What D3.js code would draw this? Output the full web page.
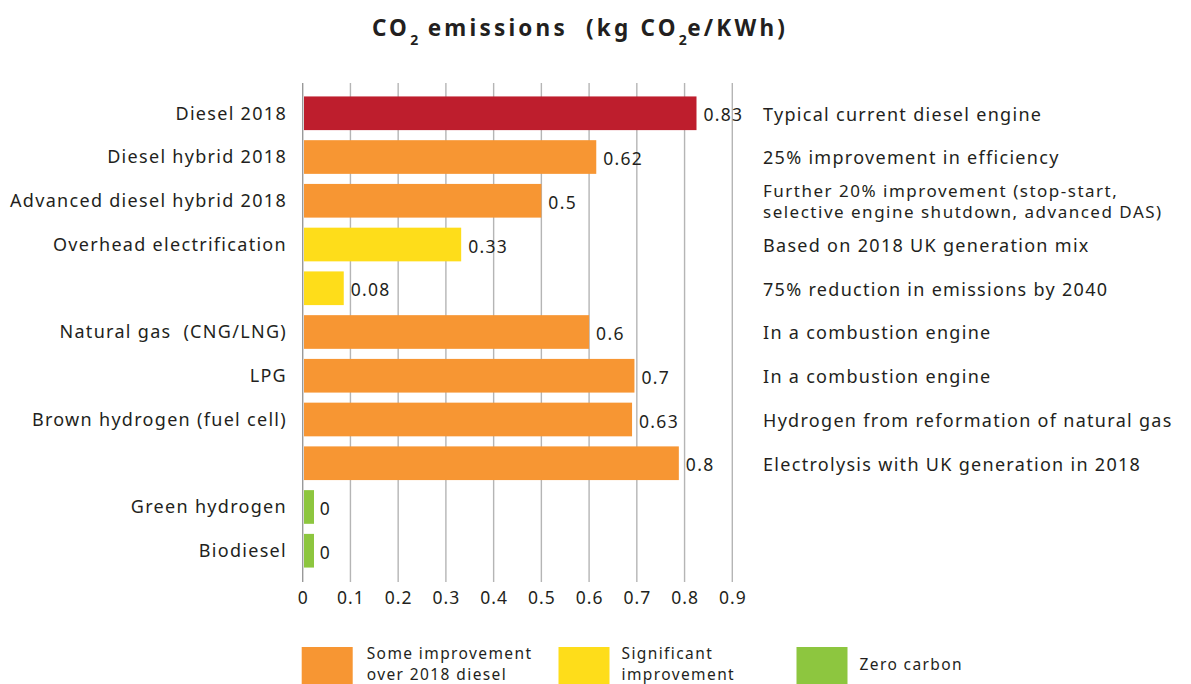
<!DOCTYPE html>
<html>
<head>
<meta charset="UTF-8" />
<title>CO2 emissions</title>
<script src="https://d3js.org/d3.v7.min.js"></script>
<style>
body { margin: 0px; background: #fff; }
text { font-family: "Noto Sans", sans-serif; fill: #231f20; letter-spacing: 1.3px; white-space: pre; }
</style>
</head>
<body>
<svg id="chart" width="1191" height="684"></svg>
<script>
// data
const categories = ["Diesel 2018", "Diesel hybrid 2018", "Advanced diesel hybrid 2018",
    "Overhead electrification", "", "Natural gas  (CNG/LNG)", "LPG",
    "Brown hydrogen (fuel cell)", "", "Green hydrogen", "Biodiesel"];
const barLengths = [0.825, 0.615, 0.5, 0.332, 0.086, 0.6, 0.695, 0.69, 0.788, 0, 0];
const valueLabels = ["0.83", "0.62", "0.5", "0.33", "0.08", "0.6", "0.7", "0.63", "0.8", "0", "0"];
const groups = ["red", "some", "some", "sig", "sig", "some", "some", "some", "some", "zero", "zero"];
const notes = [
    ["Typical current diesel engine"],
    ["25% improvement in efficiency"],
    ["Further 20% improvement (stop-start,", "selective engine shutdown, advanced DAS)"],
    ["Based on 2018 UK generation mix"],
    ["75% reduction in emissions by 2040"],
    ["In a combustion engine"],
    ["In a combustion engine"],
    ["Hydrogen from reformation of natural gas"],
    ["Electrolysis with UK generation in 2018"],
    [],
    []
];
const ticks = [0, 0.1, 0.2, 0.3, 0.4, 0.5, 0.6, 0.7, 0.8, 0.9];
const legendKeys = ["some", "sig", "zero"];
const legendLabels = [["Some improvement", "over 2018 diesel"], ["Significant", "improvement"], ["Zero carbon"]];

const colors = {red: "#be1e2d", some: "#f79633", sig: "#fedd1a", zero: "#8dc63f"};

let svg = d3.select("#chart");
let rows = categories.map((c, i) => ({id: i, name: c, len: barLengths[i], label: valueLabels[i], group: groups[i], note: notes[i]}));

let x = d3.scaleLinear().domain([0, 0.9]).range([302.7, 732.3]);
let y = d3.scaleBand().domain(rows.map(d => d.id)).range([82, 582]).paddingInner(0.23).paddingOuter(0.33);
let minBar = 10; // zero values still get a sliver

// title
let title = svg.append("text")
    .attr("x", 580).attr("y", 36)
    .attr("text-anchor", "middle")
    .style("font-size", "22.5px").style("font-weight", "bold").style("letter-spacing", "3.2px");
title.append("tspan").text("CO");
title.append("tspan").text("2").attr("dy", 9).style("font-size", "14px").style("letter-spacing", "0.5px");
title.append("tspan").text(" emissions  (kg CO").attr("dy", -9);
title.append("tspan").text("2").attr("dy", 9).style("font-size", "14px").style("letter-spacing", "0.5px");
title.append("tspan").text("e/KWh)").attr("dy", -9);

// grid lines
svg.append("g").selectAll("line").data(ticks).join("line")
    .attr("x1", d => x(d)).attr("x2", d => x(d))
    .attr("y1", 83).attr("y2", 582)
    .attr("stroke", d => d === 0 ? "#999" : "#b5b5b5")
    .attr("stroke-width", 1.4);

// x axis labels
let xAxis = svg.append("g").attr("transform", "translate(0,582)")
    .call(d3.axisBottom(x).tickValues(ticks).tickFormat(d3.format("")).tickSize(0).tickPadding(10));
xAxis.select(".domain").remove();
xAxis.selectAll("text").style("font-size", "17.5px").style("fill", "#231f20")
    .style("font-family", "Noto Sans, sans-serif").style("letter-spacing", "1px");

// bars
svg.append("g").selectAll("rect").data(rows).join("rect")
    .attr("x", x(0) + 1.3)
    .attr("y", d => y(d.id))
    .attr("height", y.bandwidth())
    .attr("width", d => Math.max(x(d.len) - x(0) - 1.3, minBar))
    .attr("fill", d => colors[d.group]);

// value labels
svg.append("g").selectAll("text").data(rows).join("text")
    .attr("x", d => Math.max(x(d.len), x(0) + minBar) + 7)
    .attr("y", d => y(d.id) + y.bandwidth() / 2 + 2)
    .attr("dy", "0.35em")
    .style("font-size", "17.5px")
    .text(d => d.label);

// category labels
svg.append("g").selectAll("text").data(rows).join("text")
    .attr("x", 287)
    .attr("y", d => y(d.id) + y.bandwidth() / 2)
    .attr("dy", "0.35em")
    .attr("text-anchor", "end")
    .style("font-size", "18px")
    .text(d => d.name);

// notes on the right
let noteLine = 21;
let noteG = svg.append("g").selectAll("text").data(rows).join("text")
    .attr("x", 763)
    .attr("y", d => y(d.id) + y.bandwidth() / 2 + 1 - (d.note.length - 1) * noteLine / 2)
    .style("font-size", d => d.note.length > 1 ? "17px" : "18px")
    .style("letter-spacing", d => d.note.length > 1 ? "1.5px" : null);
noteG.selectAll("tspan").data(d => d.note).join("tspan")
    .attr("x", 763)
    .attr("dy", (d, i) => i === 0 ? "0.35em" : noteLine)
    .text(d => d);

// legend
let legendX = d3.scaleOrdinal().domain(legendKeys).range([301.7, 558.5, 796.5]);
let leg = svg.append("g").selectAll("g").data(legendKeys).join("g")
    .attr("transform", d => `translate(${legendX(d)},647)`);
leg.append("rect").attr("width", 51).attr("height", 37).attr("fill", d => colors[d]);
let legText = leg.append("text")
    .attr("x", (d, i) => i === 0 ? 65 : 63)
    .attr("y", (d, i) => legendLabels[i].length > 1 ? 12 : 23)
    .style("font-size", "15.5px").style("letter-spacing", "1.4px");
legText.selectAll("tspan").data((d, i) => legendLabels[i]).join("tspan")
    .attr("x", function() { return this.parentNode.getAttribute("x"); })
    .attr("dy", (d, i) => i === 0 ? 0 : 21.2)
    .text(d => d);
</script>
</body>
</html>
